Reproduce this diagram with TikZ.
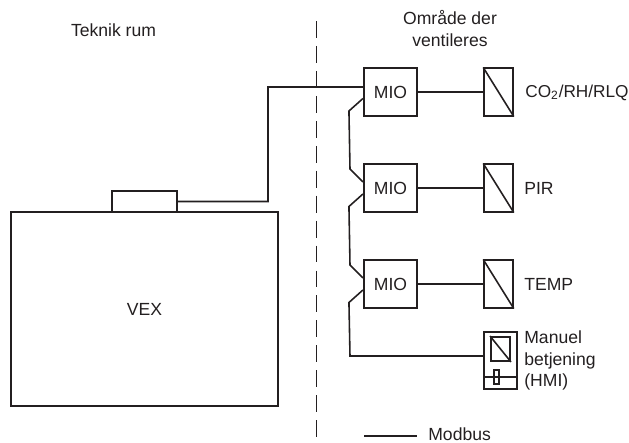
\documentclass[tikz,border=0pt]{standalone}
\usepackage{fontspec}
\setmainfont{Liberation Sans}
\usetikzlibrary{calc}

\definecolor{inkline}{RGB}{35,31,32}

\begin{document}
\begin{tikzpicture}[
  x=1cm, y=1cm,
  font=\fontsize{10}{12.4}\selectfont,
  text=inkline,
  mio/.style={draw=inkline, line width=1.2pt, minimum width=1.06cm, minimum height=0.95cm, inner sep=0pt},
  conv/.style={draw=inkline, line width=0.9pt, minimum width=0.58cm, minimum height=0.95cm, inner sep=0pt},
  box/.style={draw=inkline, line width=0.9pt, inner sep=0pt},
  label/.style={align=left, anchor=west, inner sep=0pt},
  wire/.style={draw=inkline, line width=0.9pt},
  sepline/.style={draw=inkline, line width=0.5pt, dash pattern=on 9.6pt off 4.6pt}
]
\useasboundingbox (0, 0) rectangle (12.58, -8.86);

% left side
\node[box, minimum width=5.34cm, minimum height=3.88cm] (vex) at (2.89, -6.18) {VEX};
\node[box, minimum width=1.29cm, minimum height=0.43cm] (port) at (2.89, -4.03) {};
\node[inner sep=0pt] (teknik) at (2.27, -0.6) {Teknik rum};

% separator
\coordinate (septop) at (6.32, -0.42);
\coordinate (sepbot) at (6.32, -8.76);
\draw[sepline] (septop) -- (sepbot);

% right side
\node[inner sep=0pt, align=center] (omraade) at (9, -0.57) {Område der\\ventileres};
\node[mio] (mioa) at (7.81, -1.84) {MIO};
\node[mio] (miob) at (7.81, -3.76) {MIO};
\node[mio] (mioc) at (7.81, -5.68) {MIO};
\node[conv] (conva) at (9.97, -1.84) {};
\node[conv] (convb) at (9.97, -3.76) {};
\node[conv] (convc) at (9.97, -5.68) {};
\node[label, font=\fontsize{9.8}{12}\selectfont] (co) at (10.5, -1.85) {CO\textsubscript{2}/RH/RLQ};
\node[label] (pir) at (10.48, -3.76) {PIR};
\node[label] (temp) at (10.48, -5.68) {TEMP};

% panel
\node[box, minimum width=0.66cm, minimum height=1.14cm] (hmi) at (10.01, -7.21) {};
\node[draw=inkline, line width=1.1pt, inner sep=0pt, minimum width=0.38cm, minimum height=0.48cm] (screen) at (10.01, -6.98) {};
\node[box, minimum width=0.1cm, minimum height=0.28cm] (knob) at (9.93, -7.54) {};
\node[label] (manuel) at (10.48, -7.21) {Manuel\\betjening\\(HMI)};
\coordinate (hmileft) at (hmi.west |- knob);
\coordinate (hmiright) at (hmi.east |- knob);
\draw[wire] (hmileft) -- (hmiright);
\draw[wire] (screen.north west) -- (screen.south east);

\foreach \n in {conva,convb,convc} {
  \draw[wire] (\n.north west) -- (\n.south east);
}

% bus
\draw[wire] (port.east) -- (5.36, -4.03) -- (5.36, -1.74) -- ([yshift=0.1cm]mioa.west);
\foreach \a/\b in {mioa/conva,miob/convb,mioc/convc} {
  \draw[wire] (\a.east) -- (\b.west);
}
\draw[wire] ([yshift=-0.13cm]mioa.west) -- ++(-0.28,-0.25) -- (7, -3.38) -- ([yshift=0.12cm]miob.west);
\draw[wire] ([yshift=-0.12cm]miob.west) -- ++(-0.28,-0.25) -- (7, -5.3) -- ([yshift=0.12cm]mioc.west);
\draw[wire] ([yshift=-0.12cm]mioc.west) -- ++(-0.28,-0.25) -- (7, -7.12) -- (hmi.west |- 0,-7.12);

% legend
\coordinate (lega) at (7.28, -8.72);
\coordinate (legb) at (8.34, -8.72);
\draw[wire] (lega) -- (legb);
\node[label] (modbus) at (8.56, -8.68) {Modbus};
\end{tikzpicture}
\end{document}
